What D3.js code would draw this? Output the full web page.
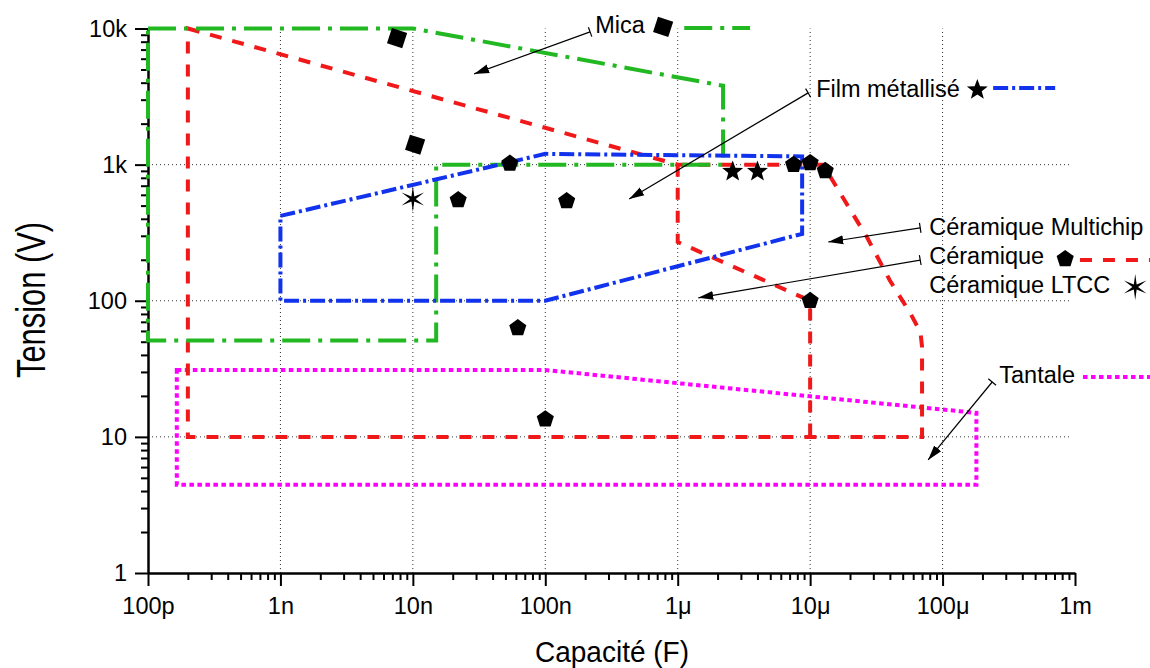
<!DOCTYPE html>
<html><head><meta charset="utf-8">
<script src="https://cdn.jsdelivr.net/npm/d3@7"></script>
<style>body{margin:0;background:#fff}svg{display:block}</style>
</head><body><svg id="c" width="1150" height="668"></svg>
<script>
// ---------- data ----------
const xTickValues = [1e-10, 1e-9, 1e-8, 1e-7, 1e-6, 1e-5, 1e-4, 1e-3];
const xTickLabels = ["100p", "1n", "10n", "100n", "1μ", "10μ", "100μ", "1m"];
const yTickValues = [1, 10, 100, 1000, 10000];
const yTickLabels = ["1", "10", "100", "1k", "10k"];
const xGrid = [1e-9, 1e-8, 1e-7, 1e-6, 1e-5, 1e-4];
const yGrid = [10, 100, 1000];

// regions [capacité F, tension V]
const micaRegion = [[1e-10,1e4],[1e-8,1e4],[2.2e-6,3800],[2.2e-6,1000],[1.5e-8,1000],[1.5e-8,51],[1e-10,51]];
const ceramiqueOuter = [[2e-10,1e4],[1e-6,1000],[1.25e-5,1000],[2.7e-5,290],[4e-5,141],[5.7e-5,81],[6.8e-5,59],[7e-5,46],[7e-5,10],[2e-10,10]];
const ceramiqueInner = [[1e-6,1000],[1e-6,270],[1e-5,100],[1e-5,10]];
const filmRegion = [[1e-9,420],[1e-7,1200],[8.7e-6,1150],[8.7e-6,310],[1e-7,100],[1e-9,100]];
const tantaleRegion = [[1.65e-10,31],[1e-7,31],[1.8e-4,15],[1.8e-4,4.45],[1.65e-10,4.45]];

// points
const micaPoints = [[7.6e-9,8500],[1.04e-8,1400]];
const ceramiquePoints = [[5.4e-8,1020],[2.2e-8,550],[1.45e-7,540],[6.2e-8,63],[1.0e-7,13.5],[7.5e-6,1000],[1.0e-5,1030],[1.3e-5,900],[1.0e-5,100]];
const filmPoints = [[2.6e-6,890],[4.0e-6,890]];
const ltccPoints = [[1.0e-8,560]];

// annotation labels
const annLabels = ["Mica", "Film métallisé", "Céramique Multichip", "Céramique", "Céramique LTCC", "Tantale"];
const annTextPos = [[2.38e-7,9290],[1.11e-5,3140],[7.93e-5,304],[7.93e-5,186],[7.93e-5,114],[2.68e-4,24.9]];
// arrows: [start(tick), tip]
const annArrows = [
  [[2.18e-7,9440],[2.9e-8,4640]],
  [[9.66e-6,3365],[4.30e-7,560]],
  [[6.78e-5,343],[1.37e-5,270]],
  [[6.78e-5,199],[1.43e-6,105]],
  [[2.37e-4,25.3],[7.78e-5,6.77]]
];
// legend samples
const legMicaSym = [7.76e-7,10280];
const legMicaLine = [[1.12e-6,10100],[3.52e-6,10100]];
const legFilmSym = [1.83e-4,3540];
const legFilmLine = [[2.41e-4,3660],[7.08e-4,3660]];
const legCeramSym = [8.43e-4,203];
const legCeramLine = [[1.09e-3,199],[3.7e-3,199]];
const legLtccSym = [2.85e-3,126];
const legTantLine = [[1.15e-3,27.5],[3.7e-3,27.5]];

// ---------- styles ----------
const C = {mica:"#22b822", ceram:"#f01818", film:"#1133ee", tant:"#ff00ff"};
const DASH = {mica:"28,8,4,8", ceram:"12,11", film:"15,4,3,4", tant:"4.5,3.5"};
const FONT = "'Liberation Sans', Arial, Helvetica, sans-serif";

const svg = d3.select("#c");
const x = d3.scaleLog().domain([1e-10, 1e-3]).range([148, 1075]);
const y = d3.scaleLog().domain([1, 1e4]).range([573, 28.5]);

// grid
const grid = svg.append("g");
grid.selectAll("line.v").data(xGrid).join("line")
  .attr("x1", d=>x(d)).attr("x2", d=>x(d)).attr("y1", y(1)).attr("y2", y(1e4))
  .attr("stroke","#333").attr("stroke-width",1).attr("stroke-dasharray","1,3");
grid.selectAll("line.h").data(yGrid).join("line")
  .attr("x1", x(1e-10)).attr("x2", 1070).attr("y1", d=>y(d)).attr("y2", d=>y(d))
  .attr("stroke","#333").attr("stroke-width",1).attr("stroke-dasharray","1,3");

// minor ticks
const minorX = [], minorY = [];
xTickValues.slice(0,-1).forEach(d=>{ for(let k=2;k<10;k++) minorX.push(d*k); });
yTickValues.slice(0,-1).forEach(d=>{ for(let k=2;k<10;k++) minorY.push(d*k); });

function styleAxis(g){
  g.select(".domain").attr("stroke","#000").attr("stroke-width",2.5);
  g.selectAll(".tick line").attr("stroke","#000").attr("stroke-width",2);
  g.selectAll(".tick text").attr("font-family",FONT).attr("font-size",23.5).attr("fill","#000");
}
const gxMinor = svg.append("g").attr("transform",`translate(0,${y(1)})`)
  .call(d3.axisBottom(x).tickValues(minorX).tickSize(7).tickFormat("").tickSizeOuter(0));
gxMinor.select(".domain").remove(); gxMinor.selectAll(".tick line").attr("stroke-width",2);
const gyMinor = svg.append("g").attr("transform",`translate(${x(1e-10)},0)`)
  .call(d3.axisLeft(y).tickValues(minorY).tickSize(7).tickFormat("").tickSizeOuter(0));
gyMinor.select(".domain").remove(); gyMinor.selectAll(".tick line").attr("stroke-width",2);

const gx = svg.append("g").attr("transform",`translate(0,${y(1)})`)
  .call(d3.axisBottom(x).tickValues(xTickValues).tickFormat((d,i)=>xTickLabels[i]).tickSize(13).tickPadding(11).tickSizeOuter(0));
styleAxis(gx);
const gy = svg.append("g").attr("transform",`translate(${x(1e-10)},0)`)
  .call(d3.axisLeft(y).tickValues(yTickValues).tickFormat((d,i)=>yTickLabels[i]).tickSize(13).tickPadding(8).tickSizeOuter(0));
styleAxis(gy);

// axis titles
svg.append("text").attr("x", 612).attr("y", 662).attr("text-anchor","middle")
  .attr("font-family",FONT).attr("font-size",30).attr("textLength",154).attr("lengthAdjust","spacingAndGlyphs")
  .text("Capacité (F)");
svg.append("text").attr("transform","translate(45,300) rotate(-90)").attr("text-anchor","middle")
  .attr("font-family",FONT).attr("font-size",40).attr("textLength",156).attr("lengthAdjust","spacingAndGlyphs")
  .text("Tension (V)");

// regions
const lineOpen = d3.line().x(d=>x(d[0])).y(d=>y(d[1]));
const lineClosed = d3.line().x(d=>x(d[0])).y(d=>y(d[1])).curve(d3.curveLinearClosed);
function region(data, closed, color, dash){
  svg.append("path").attr("d", (closed?lineClosed:lineOpen)(data))
    .attr("fill","none").attr("stroke",color).attr("stroke-width",4)
    .attr("stroke-dasharray",dash).attr("stroke-linejoin","miter");
}
region(tantaleRegion, true, C.tant, DASH.tant);
region(ceramiqueOuter, true, C.ceram, DASH.ceram);
region(ceramiqueInner, false, C.ceram, DASH.ceram);
region(micaRegion, true, C.mica, DASH.mica);
region(filmRegion, true, C.film, DASH.film);

// legend lines
region(legMicaLine, false, C.mica, DASH.mica);
region(legFilmLine, false, C.film, DASH.film);
region(legCeramLine, false, C.ceram, DASH.ceram);
region(legTantLine, false, C.tant, DASH.tant);

// symbols
function starType(n, ratio){
  return {draw(ctx, size){
    const R = Math.sqrt(size), r = R*ratio;
    for(let i=0;i<2*n;i++){
      const a = -Math.PI/2 + i*Math.PI/n, rr = i%2===0?R:r;
      const px = rr*Math.cos(a), py = rr*Math.sin(a);
      i===0?ctx.moveTo(px,py):ctx.lineTo(px,py);
    }
    ctx.closePath();
  }};
}
const pentagonType = {draw(ctx,size){
  const R = Math.sqrt(size);
  for(let i=0;i<5;i++){
    const a = -Math.PI/2 + i*2*Math.PI/5;
    i===0?ctx.moveTo(R*Math.cos(a),R*Math.sin(a)):ctx.lineTo(R*Math.cos(a),R*Math.sin(a));
  }
  ctx.closePath();
}};
const squareType = {draw(ctx,size){
  const h = Math.sqrt(size)/2;
  ctx.moveTo(-h,-h); ctx.lineTo(h,-h); ctx.lineTo(h,h); ctx.lineTo(-h,h); ctx.closePath();
}};
function drawSym(data, type, size, rot){
  svg.append("g").selectAll("path").data(data).join("path")
    .attr("transform", d=>`translate(${x(d[0])},${y(d[1])}) rotate(${rot})`)
    .attr("d", d3.symbol().type(type).size(size)())
    .attr("fill","#000");
}
drawSym(micaPoints, squareType, 16*16, 18);
drawSym([legMicaSym], squareType, 16*16, 18);
drawSym(ceramiquePoints, pentagonType, 9*9, 0);
drawSym([legCeramSym], pentagonType, 9*9, 0);
drawSym(filmPoints, starType(5,0.42), 11*11, 0);
drawSym([legFilmSym], starType(5,0.42), 11*11, 0);
drawSym(ltccPoints, starType(6,0.22), 13*13, 0);
drawSym([legLtccSym], starType(6,0.22), 13*13, 0);

// arrows
const defs = svg.append("defs");
defs.append("marker").attr("id","ah").attr("markerUnits","userSpaceOnUse")
  .attr("markerWidth",16).attr("markerHeight",12).attr("refX",15).attr("refY",6).attr("orient","auto")
  .append("path").attr("d","M0,1.5 L15,6 L0,10.5 Z").attr("fill","#000");
annArrows.forEach(a=>{
  const x1=x(a[0][0]), y1=y(a[0][1]), x2=x(a[1][0]), y2=y(a[1][1]);
  svg.append("line").attr("x1",x1).attr("y1",y1).attr("x2",x2).attr("y2",y2)
    .attr("stroke","#000").attr("stroke-width",1.2).attr("marker-end","url(#ah)");
  const dx=x2-x1, dy=y2-y1, L=Math.hypot(dx,dy), nx=-dy/L*5, ny=dx/L*5;
  svg.append("line").attr("x1",x1+nx).attr("y1",y1+ny).attr("x2",x1-nx).attr("y2",y1-ny)
    .attr("stroke","#000").attr("stroke-width",1.2);
});

// annotation text
svg.append("g").selectAll("text").data(annLabels).join("text")
  .attr("x",(d,i)=>x(annTextPos[i][0])).attr("y",(d,i)=>y(annTextPos[i][1]))
  .attr("font-family",FONT).attr("font-size",23.5).attr("fill","#000")
  .text(d=>d);
</script></body></html>
